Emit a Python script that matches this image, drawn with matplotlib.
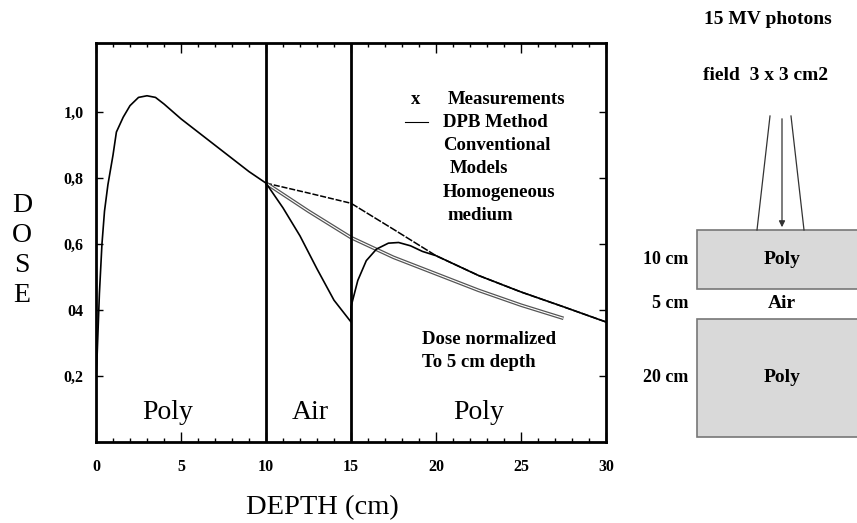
import numpy as np
import matplotlib
matplotlib.use('Agg')
import matplotlib.pyplot as plt
from matplotlib.patches import Rectangle

# depth-dose data (depth in cm, dose normalised to 5 cm)
depth_build = [0.0, 0.05, 0.2, 0.35, 0.5, 0.7, 1.0, 1.2, 1.6, 2.0, 2.5, 3.0, 3.5, 4.0,
               5.0, 6.0, 7.0, 8.0, 9.0, 10.0]
dose_build = [0.20, 0.24, 0.45, 0.60, 0.70, 0.78, 0.87, 0.94, 0.985, 1.02, 1.045, 1.05,
              1.045, 1.025, 0.98, 0.94, 0.90, 0.86, 0.82, 0.785]

# homogeneous medium beyond 10 cm
depth_homog = [10.0, 12.5, 15.0, 17.5, 20.0, 22.5, 25.0, 27.5, 30.0]
dose_homog = [0.785, 0.755, 0.724, 0.645, 0.565, 0.505, 0.455, 0.41, 0.364]

# conventional models
depth_conv = [10.0, 12.5, 15.0, 17.5, 20.0, 22.5, 25.0, 27.5]
dose_conv = [0.785, 0.70, 0.62, 0.56, 0.51, 0.46, 0.415, 0.375]

# DPB method in air and rebuild-up in second poly slab
depth_dpb = [10.0, 11.0, 12.0, 13.0, 14.0, 15.0, 15.0, 15.4, 15.9, 16.5, 17.2, 17.8,
             18.5, 19.2, 20.0, 22.5, 25.0, 27.5, 30.0]
dose_dpb = [0.785, 0.71, 0.625, 0.525, 0.43, 0.364, 0.41, 0.49, 0.55, 0.585, 0.603,
            0.605, 0.595, 0.578, 0.565, 0.505, 0.455, 0.41, 0.364]

interfaces = [10, 15]
regions = ['Poly', 'Air', 'Poly']
region_x = [4.2, 12.6, 22.5]

ytick_vals = [0.2, 0.4, 0.6, 0.8, 1.0]
ytick_labels = ['0,2', '04', '0,6', '0,8', '1,0']
xtick_vals = [0, 5, 10, 15, 20, 25, 30]

# phantom layout for the sketch
layer_names = ['Poly', 'Air', 'Poly']
layer_thick = [10, 5, 20]
layer_fill = [True, False, True]

serif = ['Liberation Serif', 'DejaVu Serif']
W, H = 857, 523

fig = plt.figure(figsize=(W / 100, H / 100), dpi=100)
fig.patch.set_facecolor('white')

ax = fig.add_axes([96 / W, 1 - 442 / H, 510 / W, 399 / H])
ax.set_xlim(0, 30)
ax.set_ylim(0, 1.21)

# curves
ax.plot(depth_build, dose_build, color='black', lw=1.2)
ax.plot(depth_homog[:3], dose_homog[:3], color='black', lw=1.1, ls=(0, (4, 1.2)))
ax.plot(depth_homog[2:], dose_homog[2:], color='black', lw=1.1, ls=(0, (5, 1)))
ax.plot(depth_conv, dose_conv, color='#555555', lw=2.6, solid_capstyle='butt')
ax.plot(depth_conv, dose_conv, color='white', lw=0.8, solid_capstyle='butt')
ax.plot(depth_dpb, dose_dpb, color='black', lw=1.2)

for xi in interfaces:
    ax.axvline(xi, color='black', lw=2)

for name, xr in zip(regions, region_x):
    ax.text(xr, 0.09, name, fontsize=20, family=serif, ha='center', va='center')

# axes styling
for s in ax.spines.values():
    s.set_linewidth(2)
ax.set_xticks(xtick_vals)
ax.set_xticks(np.arange(0, 31, 1), minor=True)
ax.set_yticks(ytick_vals)
ax.set_yticklabels(ytick_labels)
ax.tick_params(axis='both', which='both', direction='in', top=True, right=True)
ax.tick_params(axis='x', which='major', length=7, width=1, pad=12)
ax.tick_params(axis='x', which='minor', length=3, width=1)
ax.tick_params(axis='y', which='major', length=5, width=1, pad=9)
for lab in ax.get_xticklabels() + ax.get_yticklabels():
    lab.set_fontfamily(serif)
    lab.set_fontweight('bold')
    lab.set_fontsize(11.5)

# legend-like text block
tkw = dict(fontsize=13.5, family=serif, fontweight='bold', va='center', ha='left')
ax.text(18.5, 1.04, 'x', **tkw)
ax.text(20.7, 1.04, 'Measurements', **tkw)
ax.plot([18.2, 19.5], [0.97, 0.97], color='black', lw=0.8)
ax.text(20.4, 0.97, 'DPB Method', **tkw)
ax.text(20.4, 0.90, 'Conventional', **tkw)
ax.text(20.8, 0.83, 'Models', **tkw)
ax.text(20.4, 0.758, 'Homogeneous', **tkw)
ax.text(20.7, 0.688, 'medium', **tkw)
ax.text(19.2, 0.31, 'Dose normalized', **tkw)
ax.text(19.2, 0.242, 'To 5 cm depth', **tkw)

fig.text(22 / W, 1 - 250.5 / H, 'D\nO\nS\nE', fontsize=20, family=serif,
         ha='center', va='center', multialignment='center', linespacing=1.25)
fig.text(322 / W, 1 - 508 / H, 'DEPTH (cm)', fontsize=20.5, family=serif,
         ha='center', va='center')

# phantom sketch on the right, in cm units
scale = 5.9  # pixels per cm in the sketch
top_px = 230
axd = fig.add_axes([600 / W, 0, 257 / W, 1])
axd.set_xlim(0, 257 / scale)
axd.set_ylim((H - top_px) / scale, -top_px / scale)
axd.axis('off')

box_x0 = (697 - 600) / scale
box_w = 200 / scale
xc = (782 - 600) / scale
y0 = 0
for name, th, filled in zip(layer_names, layer_thick, layer_fill):
    if filled:
        axd.add_patch(Rectangle((box_x0, y0), box_w, th, facecolor='#d9d9d9',
                                edgecolor='#777777', lw=1.2, clip_on=False))
    axd.text(xc, y0 + th / 2, name, fontsize=14, family=serif, fontweight='bold',
             ha='center', va='center')
    axd.text((688 - 600) / scale, y0 + th / 2, f'{th} cm', fontsize=13, family=serif,
             fontweight='bold', ha='right', va='center')
    y0 += th

beam_top = (116 - top_px) / scale
axd.plot([(770 - 600) / scale, (757 - 600) / scale], [beam_top, 0], color='#333333', lw=0.9)
axd.plot([(791 - 600) / scale, (804 - 600) / scale], [beam_top, 0], color='#333333', lw=0.9)
axd.annotate('', xy=(xc, 0), xytext=(xc, beam_top),
             arrowprops=dict(arrowstyle='-|>', color='#333333', lw=0.9, mutation_scale=9))

axd.text((768 - 600) / scale, (20 - top_px) / scale, '15 MV photons', fontsize=14,
         family=serif, fontweight='bold', ha='center', va='center')
axd.text((766 - 600) / scale, (75 - top_px) / scale, 'field  3 x 3 cm2', fontsize=14,
         family=serif, fontweight='bold', ha='center', va='center')

fig.savefig('out.png', dpi=100, facecolor='white')
